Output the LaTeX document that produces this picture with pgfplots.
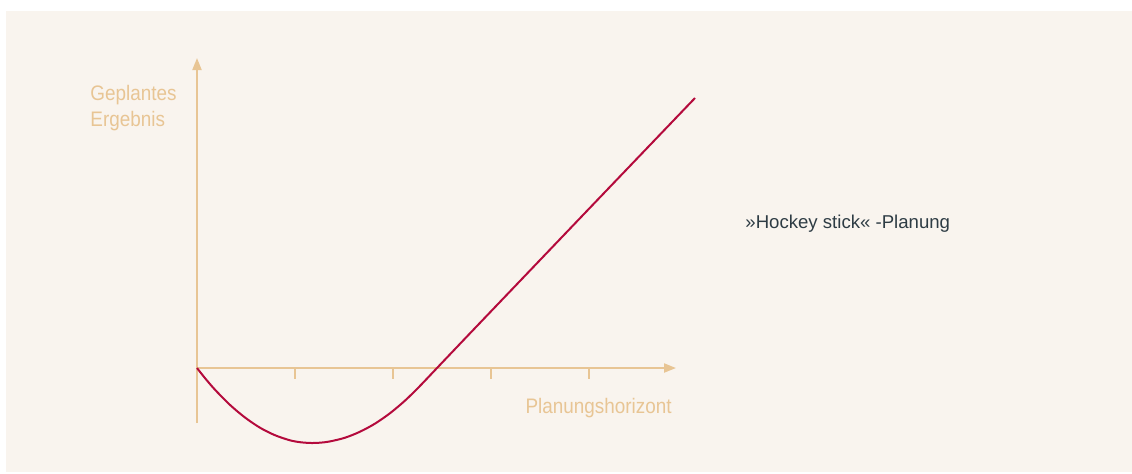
\documentclass[border=0pt]{standalone}
\usepackage{fontspec}
\setmainfont{Liberation Sans}[FakeStretch=0.9]
\newfontfamily\labelfont{Liberation Sans}
\usepackage{pgfplots}
\pgfplotsset{compat=1.18}
\usetikzlibrary{arrows.meta}
\definecolor{bgpanel}{RGB}{249,244,238}
\definecolor{axcol}{RGB}{232,197,148}
\definecolor{curvecol}{RGB}{180,10,60}
\definecolor{darktext}{RGB}{46,60,68}
\newcommand{\hockeylabel}{{\char"BB}Hockey stick{\char"AB} -Planung}
\begin{document}
\begin{tikzpicture}
\begin{axis}[
  scale only axis, width=566pt, height=236.5pt,
  xmin=0, xmax=1132, ymin=0, ymax=473, y dir=reverse,
  hide axis, clip=false,
]
\fill[white] (axis cs:0,0) rectangle (axis cs:1132,473);
\fill[bgpanel] (axis cs:6,11) rectangle (axis cs:1132,472);
% axes
\draw[axcol, line width=1pt, -{Triangle[width=4.5pt,length=6pt]}] (axis cs:197,423) -- (axis cs:197,58);
\draw[axcol, line width=1pt, -{Triangle[width=4.5pt,length=6pt]}] (axis cs:197,368) -- (axis cs:676,368);
\pgfplotsinvokeforeach{295,393,491,589}{
  \draw[axcol, line width=1pt] (axis cs:#1,368) -- (axis cs:#1,379);
}
\addplot[curvecol, line width=1pt, smooth, tension=0.5] coordinates {
(197,368.0) (205,378.1) (215,389.7) (230,404.9) (245,417.5) (260,427.7) (275,435.2)
(290,440.3) (301,442.3) (312,443.0) (321,442.6) (330,441.4) (345,437.7) (360,431.7)
(375,423.6) (390,413.2) (405,400.6) (419.4,386.5) (437,368.0) (470,333.3)
(530,270.5) (590,207.7) (650,145.0) (695,98.0)
};
\node[anchor=base west, inner sep=0, text=axcol, font=\fontsize{10.5pt}{13pt}\selectfont] at (axis cs:90,100) {Geplantes};
\node[anchor=base west, inner sep=0, text=axcol, font=\fontsize{10.5pt}{13pt}\selectfont] at (axis cs:90,126) {Ergebnis};
\node[anchor=base east, inner sep=0, text=axcol, font=\fontsize{10.5pt}{13pt}\selectfont] at (axis cs:672,413) {Planungshorizont};
\node[anchor=base west, inner sep=0, text=darktext, font=\labelfont\fontsize{9.3pt}{11pt}\selectfont] at (axis cs:745,228) {\hockeylabel};
\end{axis}
\end{tikzpicture}
\end{document}
